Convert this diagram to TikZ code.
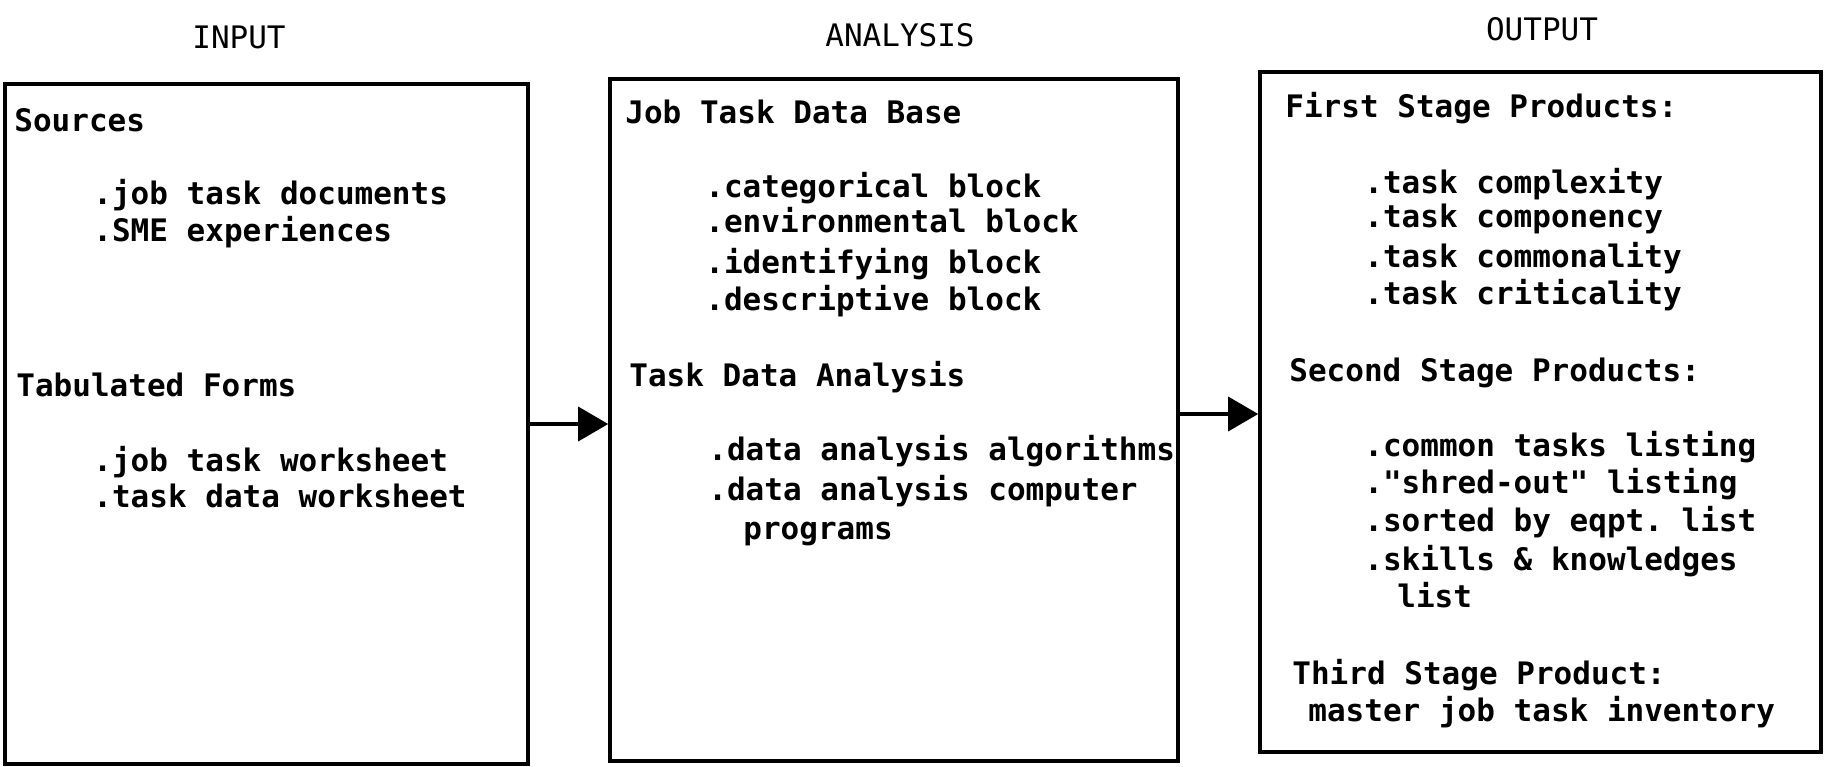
\documentclass[tikz,border=0pt]{standalone}
\usepackage{fontspec}
\setmonofont{DejaVu Sans Mono}
\usetikzlibrary{arrows.meta}
\tikzset{
  panel/.style={draw, line width=1.8pt, inner sep=0pt},
  head/.style={font=\ttfamily\fontsize{15.5}{18}\selectfont, inner sep=0pt, anchor=base},
  txt/.style={font=\ttfamily\bfseries\fontsize{15.5}{18}\selectfont, inner sep=0pt, anchor=base west},
  flow/.style={line width=1.8pt, -{Triangle[length=15pt,width=17pt]}}
}
\begin{document}
\begin{tikzpicture}[x=0.5pt,y=-0.5pt]
\useasboundingbox (0,0) rectangle (1825,766);

% column headings
\node[head] (hin)  at (239,48) {INPUT};
\node[head] (han)  at (900,46) {ANALYSIS};
\node[head] (hout) at (1542,40) {OUTPUT};

% the three panels
\node[panel, minimum width=261.5pt, minimum height=340pt] (input)    at (266.5,424) {};
\node[panel, minimum width=284pt,   minimum height=341pt] (analysis) at (894,420) {};
\node[panel, minimum width=280.5pt, minimum height=340pt] (output)   at (1540.5,412) {};

% input panel
\node[txt] (src)  at (14,131)  {Sources};
\node[txt] (src1) at (93,204)  {.job task documents};
\node[txt] (src2) at (93,241)  {.SME experiences};
\node[txt] (tab)  at (16,396)  {Tabulated Forms};
\node[txt] (tab1) at (93,471)  {.job task worksheet};
\node[txt] (tab2) at (93,507)  {.task data worksheet};

% analysis panel
\node[txt] (db)   at (625,123) {Job Task Data Base};
\node[txt] (db1)  at (705,197) {.categorical block};
\node[txt] (db2)  at (705,232) {.environmental block};
\node[txt] (db3)  at (705,273) {.identifying block};
\node[txt] (db4)  at (705,310) {.descriptive block};
\node[txt] (tda)  at (629,386) {Task Data Analysis};
\node[txt] (tda1) at (708,460) {.data analysis algorithms};
\node[txt] (tda2) at (708,500) {.data analysis computer};
\node[txt] (tda3) at (743,539) {programs};

% output panel
\node[txt] (fs)   at (1285,117) {First Stage Products:};
\node[txt] (fs1)  at (1364,193) {.task complexity};
\node[txt] (fs2)  at (1364,227) {.task componency};
\node[txt] (fs3)  at (1364,267) {.task commonality};
\node[txt] (fs4)  at (1364,304) {.task criticality};
\node[txt] (ss)   at (1289,381) {Second Stage Products:};
\node[txt] (ss1)  at (1364,456) {.common tasks listing};
\node[txt] (ss2)  at (1364,493) {."shred-out" listing};
\node[txt] (ss3)  at (1364,531) {.sorted by eqpt. list};
\node[txt] (ss4)  at (1364,570) {.skills \& knowledges};
\node[txt] (ss5)  at (1397,607) {list};
\node[txt] (ts)   at (1292,684) {Third Stage Product:};
\node[txt] (ts1)  at (1308,721) {master job task inventory};

% connectors
\coordinate (r1) at (0,424);
\coordinate (r2) at (0,414);
\draw[flow] (input.east |- r1) -- (analysis.west |- r1);
\draw[flow] (analysis.east |- r2) -- (output.west |- r2);
\end{tikzpicture}
\end{document}
